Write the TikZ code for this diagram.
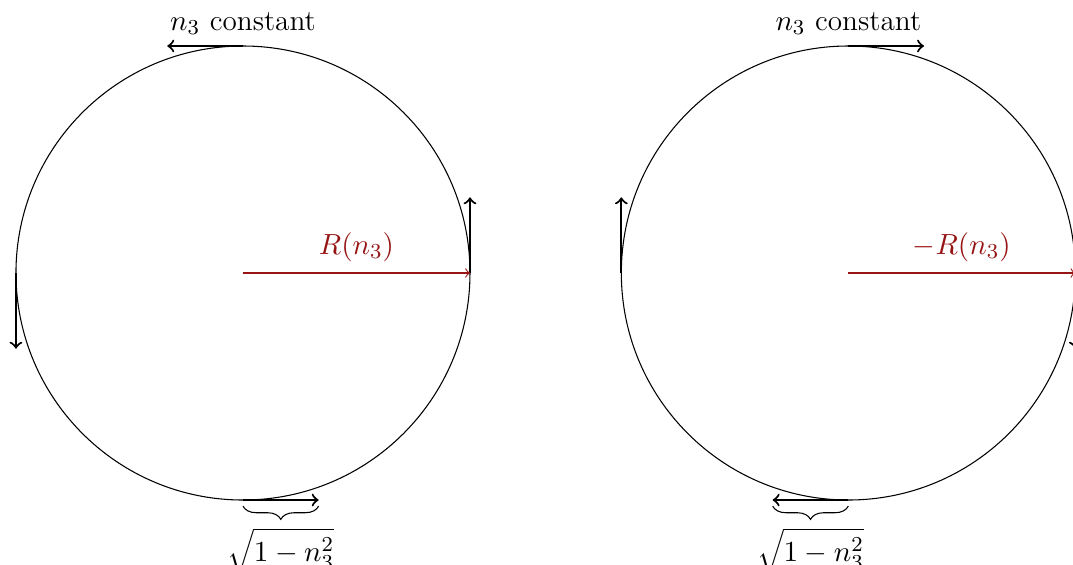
\documentclass[tikz,border=0pt]{standalone}
\usetikzlibrary{decorations.pathreplacing,calc}
\definecolor{darkred}{RGB}{150,20,20}
\tikzset{
  circ/.style={draw=black, line width=0.4pt},
  tang/.style={->, thick},
  radarrow/.style={->, draw=darkred, line width=0.4pt},
  bracestyle/.style={decorate, decoration={brace, mirror, amplitude=5pt}, line width=0.4pt},
  lbl/.style={inner sep=4pt, font=\fontsize{11}{13}\selectfont},
  sqlbl/.style={inner sep=2pt, font=\fontsize{11}{13}\selectfont}
}
\begin{document}
\begin{tikzpicture}
\useasboundingbox (-3.211,-3.846) rectangle (10.969,3.608);
% left circle
\coordinate (cL) at (0,0);
\draw[circ] (cL) circle (3);
\coordinate (tL) at (0,3);
\coordinate (tLe) at (-1,3);
\coordinate (rL) at (3,0);
\coordinate (rLe) at (3,1);
\coordinate (lL) at (-3,0);
\coordinate (lLe) at (-3,-1);
\coordinate (bL) at (0,-3);
\coordinate (bLe) at (1,-3);
\draw[tang] (tL) -- (tLe);
\draw[tang] (rL) -- (rLe);
\draw[tang] (lL) -- (lLe);
\draw[tang] (bL) -- (bLe);
\node[lbl, above] (topL) at (tL) {$n_3$ constant};
\draw[radarrow] (cL) -- node[above, text=darkred, lbl] (RL) {$R(n_3)$} (rL);
\coordinate (brL1) at (0,-3.08);
\coordinate (brL2) at (1,-3.08);
\draw[bracestyle] (brL1) -- (brL2);
\node[sqlbl, below=6pt] (sqL) at ($(brL1)!0.5!(brL2)$) {$\sqrt{1-n_3^2}$};
% right circle
\coordinate (cR) at (8,0);
\draw[circ] (cR) circle (3);
\coordinate (tR) at (8,3);
\coordinate (tRe) at (9,3);
\coordinate (rR) at (11,0);
\coordinate (rRe) at (11,-1);
\coordinate (lR) at (5,0);
\coordinate (lRe) at (5,1);
\coordinate (bR) at (8,-3);
\coordinate (bRe) at (7,-3);
\draw[tang] (tR) -- (tRe);
\draw[tang] (rR) -- (rRe);
\draw[tang] (lR) -- (lRe);
\draw[tang] (bR) -- (bRe);
\node[lbl, above] (topR) at (tR) {$n_3$ constant};
\draw[radarrow] (cR) -- node[above, text=darkred, lbl] (RR) {$-R(n_3)$} (rR);
\coordinate (brR1) at (7,-3.08);
\coordinate (brR2) at (8,-3.08);
\draw[bracestyle] (brR1) -- (brR2);
\node[sqlbl, below=6pt] (sqR) at ($(brR1)!0.5!(brR2)$) {$\sqrt{1-n_3^2}$};
\end{tikzpicture}
\end{document}
